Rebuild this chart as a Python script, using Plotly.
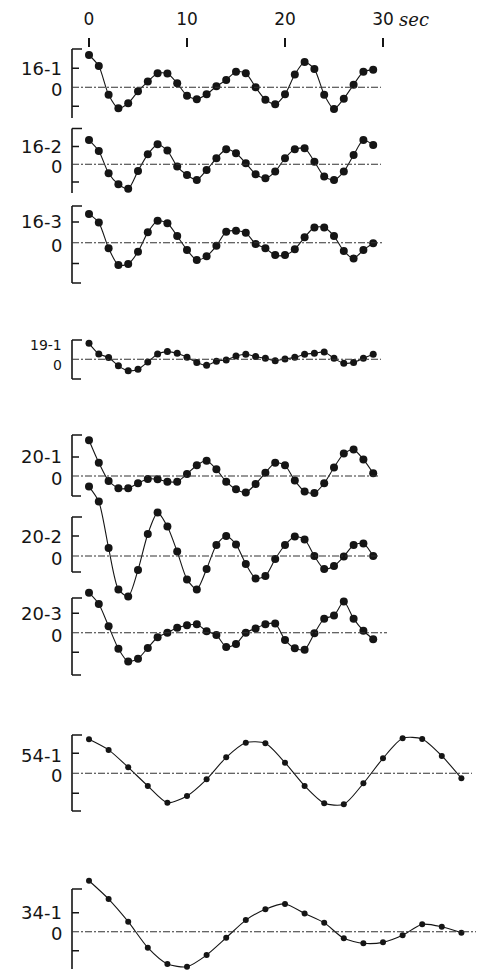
import plotly.graph_objects as go

W, H = 483, 970
PX0, PXS = 89.0, 9.8  # pixel of t=0 and pixels per second (layout only)

# ---------------- data (seconds, relative amplitude) ----------------
t_a = list(range(30))          # 1-s sampling
t_b = list(range(0, 40, 2))    # 2-s sampling

s16_1 = [1.70, 1.12, -0.39, -1.10, -0.84, -0.21, 0.30, 0.74, 0.72, 0.21,
         -0.44, -0.63, -0.37, 0.05, 0.39, 0.82, 0.74, 0.00, -0.65, -0.89,
         -0.37, 0.67, 1.33, 0.96, -0.39, -1.14, -0.60, 0.14, 0.82, 0.93]
s16_2 = [1.36, 0.75, -0.50, -1.12, -1.38, -0.37, 0.56, 1.12, 0.77, -0.13,
         -0.60, -0.88, -0.32, 0.34, 0.84, 0.62, 0.06, -0.56, -0.79, -0.41,
         0.34, 0.84, 0.90, 0.15, -0.69, -0.88, -0.41, 0.52, 1.36, 1.08]
s16_3 = [1.39, 0.97, -0.27, -1.08, -1.03, -0.44, 0.50, 1.06, 0.94, 0.32,
         -0.35, -0.84, -0.65, -0.15, 0.53, 0.58, 0.48, -0.06, -0.27, -0.60,
         -0.60, -0.32, 0.26, 0.74, 0.74, 0.32, -0.40, -0.76, -0.35, -0.03]
s19_1 = [0.83, 0.28, 0.09, -0.34, -0.59, -0.52, -0.14, 0.28, 0.40, 0.31,
         0.10, -0.16, -0.31, -0.10, -0.03, 0.17, 0.26, 0.14, 0.05, -0.07,
         0.02, 0.10, 0.26, 0.31, 0.38, 0.05, -0.21, -0.16, 0.05, 0.26]
s20_1 = [1.88, 0.70, -0.26, -0.64, -0.64, -0.38, -0.16, -0.17, -0.30, -0.30,
         0.10, 0.57, 0.80, 0.35, -0.30, -0.70, -0.87, -0.42, 0.17, 0.70,
         0.56, -0.24, -0.82, -0.90, -0.38, 0.45, 1.18, 1.39, 0.87, 0.14]
s20_2 = [3.47, 2.72, 0.40, -1.67, -2.03, -0.70, 1.10, 2.17, 1.47, 0.22,
         -1.17, -1.67, -0.65, 0.55, 1.00, 0.58, -0.40, -1.12, -1.00, -0.15,
         0.55, 0.97, 0.83, 0.00, -0.65, -0.50, -0.03, 0.55, 0.63, 0.00]
s20_3 = [2.05, 1.47, 0.33, -0.82, -1.48, -1.33, -0.78, -0.23, 0.00, 0.25,
         0.38, 0.43, 0.08, -0.12, -0.73, -0.58, 0.00, 0.22, 0.43, 0.47,
         -0.37, -0.80, -0.87, -0.03, 0.72, 0.88, 1.60, 0.72, 0.10, -0.33]
s54_1 = [1.70, 1.17, 0.30, -0.63, -1.47, -1.13, -0.30, 0.80, 1.53, 1.50,
         0.53, -0.63, -1.50, -1.55, -0.50, 0.75, 1.75, 1.72, 0.87, -0.25]
s34_1 = [2.68, 1.72, 0.53, -0.84, -1.70, -1.84, -1.23, -0.32, 0.61, 1.18,
         1.46, 0.96, 0.47, -0.35, -0.61, -0.56, -0.19, 0.39, 0.26, -0.05]

names = ["16-1", "16-2", "16-3", "19-1", "20-1", "20-2", "20-3", "54-1", "34-1"]
times = [t_a, t_a, t_a, t_a, t_a, t_a, t_a, t_b, t_b]
series = [s16_1, s16_2, s16_3, s19_1, s20_1, s20_2, s20_3, s54_1, s34_1]

x_ticks = [0, 10, 20, 30]
x_ticktext = ["0", "10", "20", "30"]

# ---------------- layout of the panels (pixels) ----------------
panel_geo = [
    dict(zero=87.3, unit=19.0, top=49, bot=118, ticks=["top", 1, -1], end=381, lab=1.0, zl=-0.12, fs=18, ms=8),
    dict(zero=164.3, unit=17.8, top=128.5, bot=193, ticks=["top", 1, -1], end=381, lab=1.0, zl=-0.12, fs=18, ms=8),
    dict(zero=242.7, unit=20.7, top=206, bot=283, ticks=["top", 1, -1, "bot"], end=382, lab=1.0, zl=-0.12, fs=18, ms=8),
    dict(zero=359.3, unit=19.3, top=340, bot=379, ticks=["top", "bot"], end=381, lab=0.75, zl=-0.27, fs=14, ms=7),
    dict(zero=476.0, unit=19.0, top=435, bot=496, ticks=["top", 1, "bot"], end=380, lab=1.0, zl=-0.14, fs=18, ms=8),
    dict(zero=556.0, unit=20.0, top=517, bot=572, ticks=["top", 1, "bot"], end=380, lab=1.0, zl=-0.12, fs=18, ms=8),
    dict(zero=632.7, unit=19.5, top=598, bot=675, ticks=["top", 1, -1, "bot"], end=387, lab=1.0, zl=-0.12, fs=18, ms=8),
    dict(zero=773.3, unit=20.0, top=735, bot=811, ticks=["top", 1, -1, "bot"], end=472, lab=0.9, zl=-0.12, fs=18, ms=6),
    dict(zero=931.7, unit=19.0, top=889, bot=969, ticks=["top", 1, -1], end=476, lab=1.0, zl=-0.12, fs=18, ms=6),
]

INK = "#151515"
FONT = "DejaVu Sans"


def tx(px):
    return (px - PX0) / PXS


fig = go.Figure()
shapes, annotations, axes = [], [], {}
BX = 72  # bracket x pixel

for i, (nm, tt, vv, g) in enumerate(zip(names, times, series, panel_geo), start=1):
    yname = "y" if i == 1 else f"y{i}"
    akey = "yaxis" if i == 1 else f"yaxis{i}"
    dtop = max(g["zero"] - 92, 0)
    dbot = min(g["zero"] + 62, H)
    rng = [-(dbot - g["zero"]) / g["unit"], (g["zero"] - dtop) / g["unit"]]
    axes[akey] = dict(domain=[1 - dbot / H, 1 - dtop / H], range=rng,
                      visible=False, fixedrange=True, anchor="x")

    fig.add_trace(go.Scatter(
        x=tt, y=vv, xaxis="x", yaxis=yname, mode="lines+markers",
        line=dict(shape="spline", smoothing=0.7, color=INK, width=1.1),
        marker=dict(size=g["ms"], color=INK),
        cliponaxis=False, showlegend=False, hoverinfo="skip"))

    vtop = (g["zero"] - g["top"]) / g["unit"]
    vbot = -(g["bot"] - g["zero"]) / g["unit"]
    shapes.append(dict(type="line", xref="x", yref=yname, x0=tx(BX), x1=tx(BX),
                       y0=vbot, y1=vtop, line=dict(color=INK, width=1.6)))
    for tk in g["ticks"]:
        if tk == "top":
            yv, ln = vtop, 10
        elif tk == "bot":
            yv, ln = vbot, 9
        else:
            yv, ln = tk, 7
        shapes.append(dict(type="line", xref="x", yref=yname, x0=tx(BX), x1=tx(BX + ln),
                           y0=yv, y1=yv, line=dict(color=INK, width=1.5)))
    shapes.append(dict(type="line", xref="x", yref=yname, x0=tx(BX), x1=tx(g["end"]),
                       y0=0, y1=0, line=dict(color="#333", width=1.1, dash="7px,2px,2px,2px")))
    annotations.append(dict(text=nm, xref="paper", yref=yname, x=64 / W, y=g["lab"],
                            xanchor="right", yanchor="middle", showarrow=False,
                            font=dict(family=FONT, size=g["fs"], color=INK)))
    annotations.append(dict(text="0", xref="paper", yref=yname, x=64 / W, y=g["zl"],
                            xanchor="right", yanchor="middle", showarrow=False,
                            font=dict(family=FONT, size=g["fs"], color=INK)))

annotations.append(dict(text="<i>sec</i>", xref="paper", yref="paper", x=397 / W, y=1 - 19 / H,
                        xanchor="left", yanchor="middle", showarrow=False,
                        font=dict(family="DejaVu Serif", size=18, color=INK)))

fig.update_layout(
    width=W, height=H, margin=dict(l=0, r=0, t=0, b=0),
    paper_bgcolor="white", plot_bgcolor="rgba(0,0,0,0)",
    xaxis=dict(range=[tx(0), tx(W)], side="top", anchor="free", position=1 - 47 / H,
               tickvals=x_ticks, ticktext=x_ticktext, ticks="outside", ticklen=9,
               tickwidth=1.6, tickcolor=INK, showline=False, showgrid=False,
               zeroline=False, fixedrange=True, ticklabelstandoff=6,
               tickfont=dict(family=FONT, size=17, color=INK)),
    shapes=shapes, annotations=annotations, **axes)

fig.write_html("out.html", config={"displayModeBar": False},
               post_script="document.body.style.margin='0';document.body.style.overflow='hidden';")
